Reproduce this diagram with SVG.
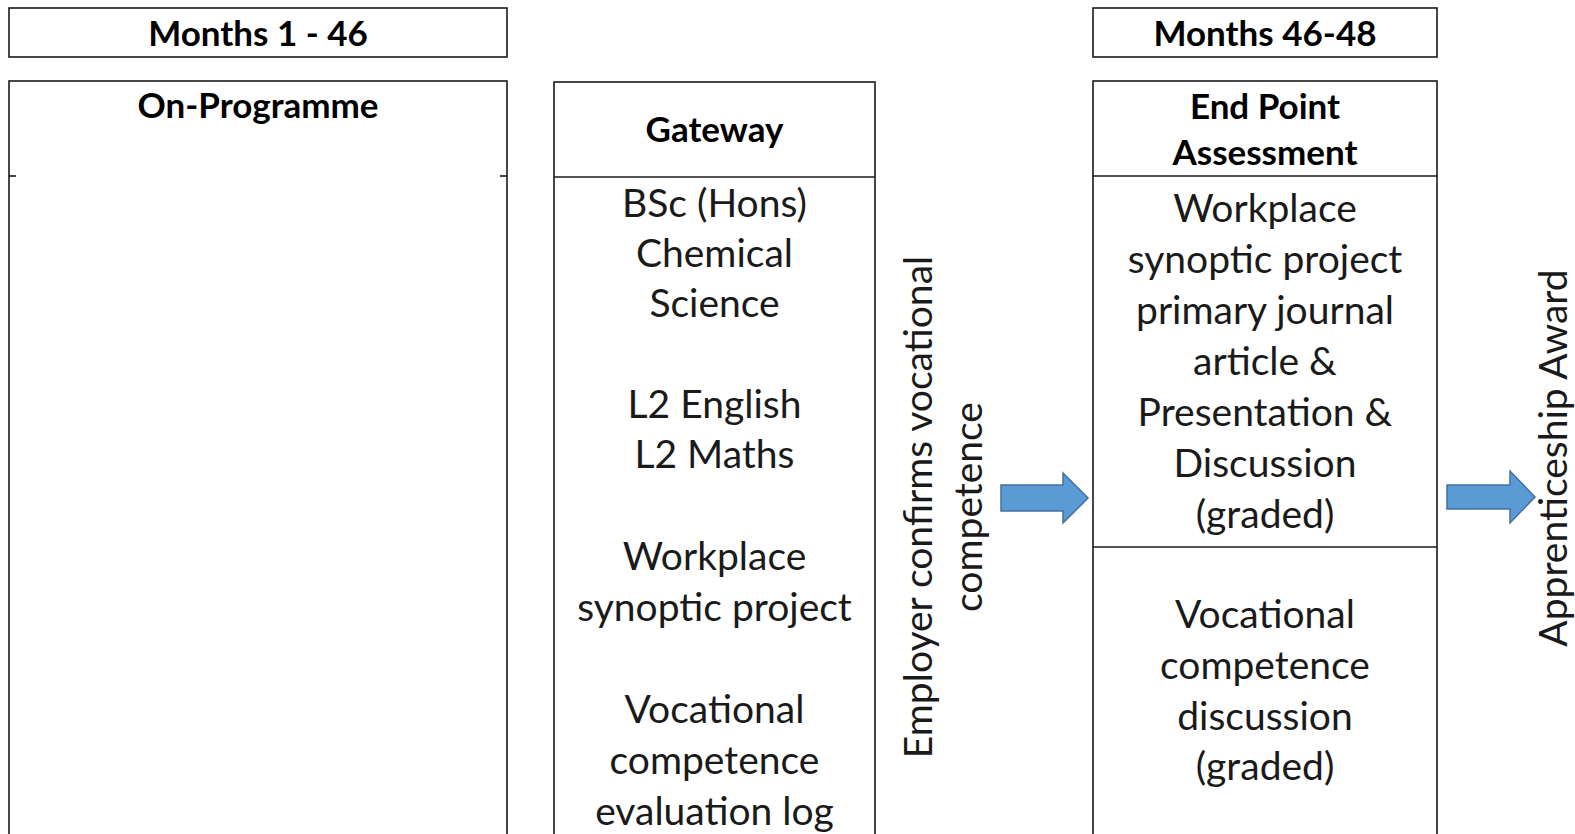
<svg xmlns="http://www.w3.org/2000/svg" width="1575" height="834" viewBox="0 0 1575 834">
<style>
.box{fill:#fff;stroke:#1a1a1a;stroke-width:1.6}
.ln{stroke:#1a1a1a;stroke-width:1.6;fill:none}
.hd{font-family:Lato,"Liberation Sans",sans-serif;font-weight:bold;font-size:35px;fill:#000;text-anchor:middle}
.bd{font-family:Lato,"Liberation Sans",sans-serif;font-size:39px;fill:#1a1a1a;text-anchor:middle}
.arr{fill:#5b9bd5;stroke:#41719c;stroke-width:1.5}
</style>
<rect width="1575" height="834" fill="#fff"/>
<g id="months1">
<rect class="box" x="9" y="8" width="498" height="49"/>
<text class="hd" x="258" y="46">Months 1 - 46</text>
</g>
<g id="months2">
<rect class="box" x="1093" y="8" width="344" height="49"/>
<text class="hd" x="1265" y="46">Months 46-48</text>
</g>
<g id="onprog">
<rect class="box" x="9" y="81" width="498" height="770"/>
<line class="ln" x1="9" y1="176" x2="16" y2="176"/>
<line class="ln" x1="500" y1="176" x2="507" y2="176"/>
<text class="hd" x="258" y="118">On-Programme</text>
</g>
<g id="gateway">
<rect class="box" x="554" y="82" width="321" height="770"/>
<line class="ln" x1="554" y1="177" x2="875" y2="177"/>
<text class="hd" x="714.5" y="142">Gateway</text>
<text class="bd" x="714.5" y="217">BSc (Hons)</text>
<text class="bd" x="714.5" y="267">Chemical</text>
<text class="bd" x="714.5" y="317">Science</text>
<text class="bd" x="714.5" y="418">L2 English</text>
<text class="bd" x="714.5" y="468">L2 Maths</text>
<text class="bd" x="714.5" y="570">Workplace</text>
<text class="bd" x="714.5" y="621">synoptic project</text>
<text class="bd" x="714.5" y="723">Vocational</text>
<text class="bd" x="714.5" y="774">competence</text>
<text class="bd" x="714.5" y="825">evaluation log</text>
</g>
<g id="epa">
<rect class="box" x="1093" y="81" width="344" height="770"/>
<line class="ln" x1="1093" y1="176" x2="1437" y2="176"/>
<line class="ln" x1="1093" y1="547" x2="1437" y2="547"/>
<text class="hd" x="1265" y="119">End Point</text>
<text class="hd" x="1265" y="165">Assessment</text>
<text class="bd" x="1265" y="222">Workplace</text>
<text class="bd" x="1265" y="273">synoptic project</text>
<text class="bd" x="1265" y="324">primary journal</text>
<text class="bd" x="1265" y="375">article &amp;</text>
<text class="bd" x="1265" y="426">Presentation &amp;</text>
<text class="bd" x="1265" y="477">Discussion</text>
<text class="bd" x="1265" y="528">(graded)</text>
<text class="bd" x="1265" y="628">Vocational</text>
<text class="bd" x="1265" y="679">competence</text>
<text class="bd" x="1265" y="730">discussion</text>
<text class="bd" x="1265" y="780">(graded)</text>
</g>
<g id="employer">
<text class="bd" transform="translate(932,507) rotate(-90)" x="0" y="0">Employer confirms vocational</text>
<text class="bd" transform="translate(982,507) rotate(-90)" x="0" y="0">competence</text>
</g>
<g id="award">
<text class="bd" transform="translate(1567,458) rotate(-90)" x="0" y="0">Apprenticeship Award</text>
</g>
<g id="connectors">
<path class="arr" d="M1001,485 H1063 V473 L1088,498 L1063,523 V511 H1001 Z"/>
<path class="arr" d="M1447,485 H1510 V471 L1535,497 L1510,523 V509 H1447 Z"/>
</g>
</svg>
